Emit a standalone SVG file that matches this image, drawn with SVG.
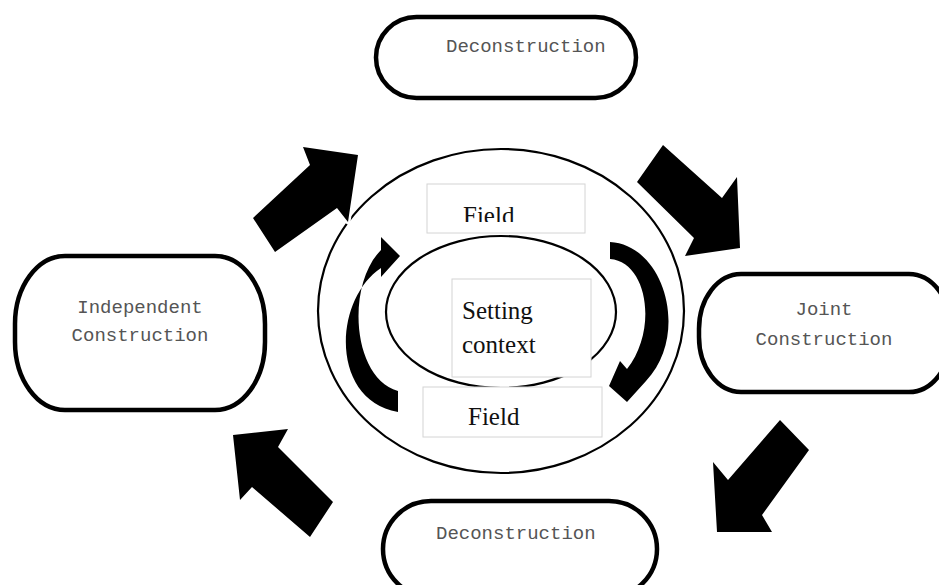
<svg xmlns="http://www.w3.org/2000/svg" width="939" height="585" viewBox="0 0 939 585">
<style>
.stad{fill:#fff;stroke:#000;stroke-width:4.5}
.mono{font-family:"Liberation Mono","Courier New",monospace;font-size:19px;fill:#555}
.ser{font-family:"Liberation Serif","Times New Roman",serif;font-size:25px;fill:#111}
.lbox{fill:#fff;stroke:#d4d4d4;stroke-width:1}
.ell{fill:none;stroke:#000;stroke-width:2.2}
.blk{fill:#000;stroke:#fff;stroke-width:5;stroke-linejoin:round;paint-order:stroke}
.crv{fill:#000;stroke:none}
</style>
<defs>
<clipPath id="clipTop"><rect x="427" y="184" width="158" height="38"/></clipPath>
</defs>
<rect width="939" height="585" fill="#fff"/>

<g id="deconstruction-top">
<rect class="stad" x="376" y="17" width="260" height="81" rx="40.5"/>
<text class="mono" x="446" y="52">Deconstruction</text>
</g>

<g id="independent-construction">
<rect class="stad" x="15" y="256" width="250" height="154" rx="50" ry="68"/>
<text class="mono" x="140" y="313" text-anchor="middle">Independent</text>
<text class="mono" x="140" y="341" text-anchor="middle">Construction</text>
</g>

<g id="joint-construction">
<rect class="stad" x="699" y="274" width="252" height="118" rx="42" ry="55"/>
<text class="mono" x="824" y="315" text-anchor="middle">Joint</text>
<text class="mono" x="824" y="345" text-anchor="middle">Construction</text>
</g>

<g id="deconstruction-bottom">
<rect class="stad" x="383" y="501" width="274" height="96" rx="48"/>
<text class="mono" x="436" y="539">Deconstruction</text>
</g>

<g id="outer-cycle">
<ellipse class="ell" cx="501" cy="311" rx="183" ry="162"/>
</g>

<g id="setting-context">
<ellipse class="ell" cx="501" cy="312" rx="115" ry="76"/>
<rect class="lbox" x="452" y="279" width="139" height="98"/>
<text class="ser" x="462" y="319">Setting</text>
<text class="ser" x="462" y="353">context</text>
</g>

<g id="field-top">
<rect class="lbox" x="427" y="184" width="158" height="49"/>
<text class="ser" x="463" y="224" clip-path="url(#clipTop)">Field</text>
</g>

<g id="field-bottom">
<rect class="lbox" x="423" y="387" width="179" height="50"/>
<text class="ser" x="468" y="425">Field</text>
</g>

<g id="connectors">
<polygon class="blk" points="253,218 310,165 303,147 358,155 348,222 337,208 275,252"/>
<polygon class="blk" points="663,145 722,198 737,177 740,248 685,256 694,238 637,182"/>
<polygon class="blk" points="780,420 809,450 762,515 772,532 717,532 713,462 728,480"/>
<polygon class="blk" points="233,435 288,429 278,447 333,502 310,537 252,487 240,500"/>
<path class="crv" d="M398 391 C352 378 346 285 381 250 L381 237 L400 256 L381 277 L381 268 C333 300 330 400 398 412 Z"/>
<path class="crv" d="M610 242 C665 245 690 335 646 381 L627 402 L609 386 L620 361 L627 369 C658 330 648 262 610 259 Z"/>
</g>
</svg>
